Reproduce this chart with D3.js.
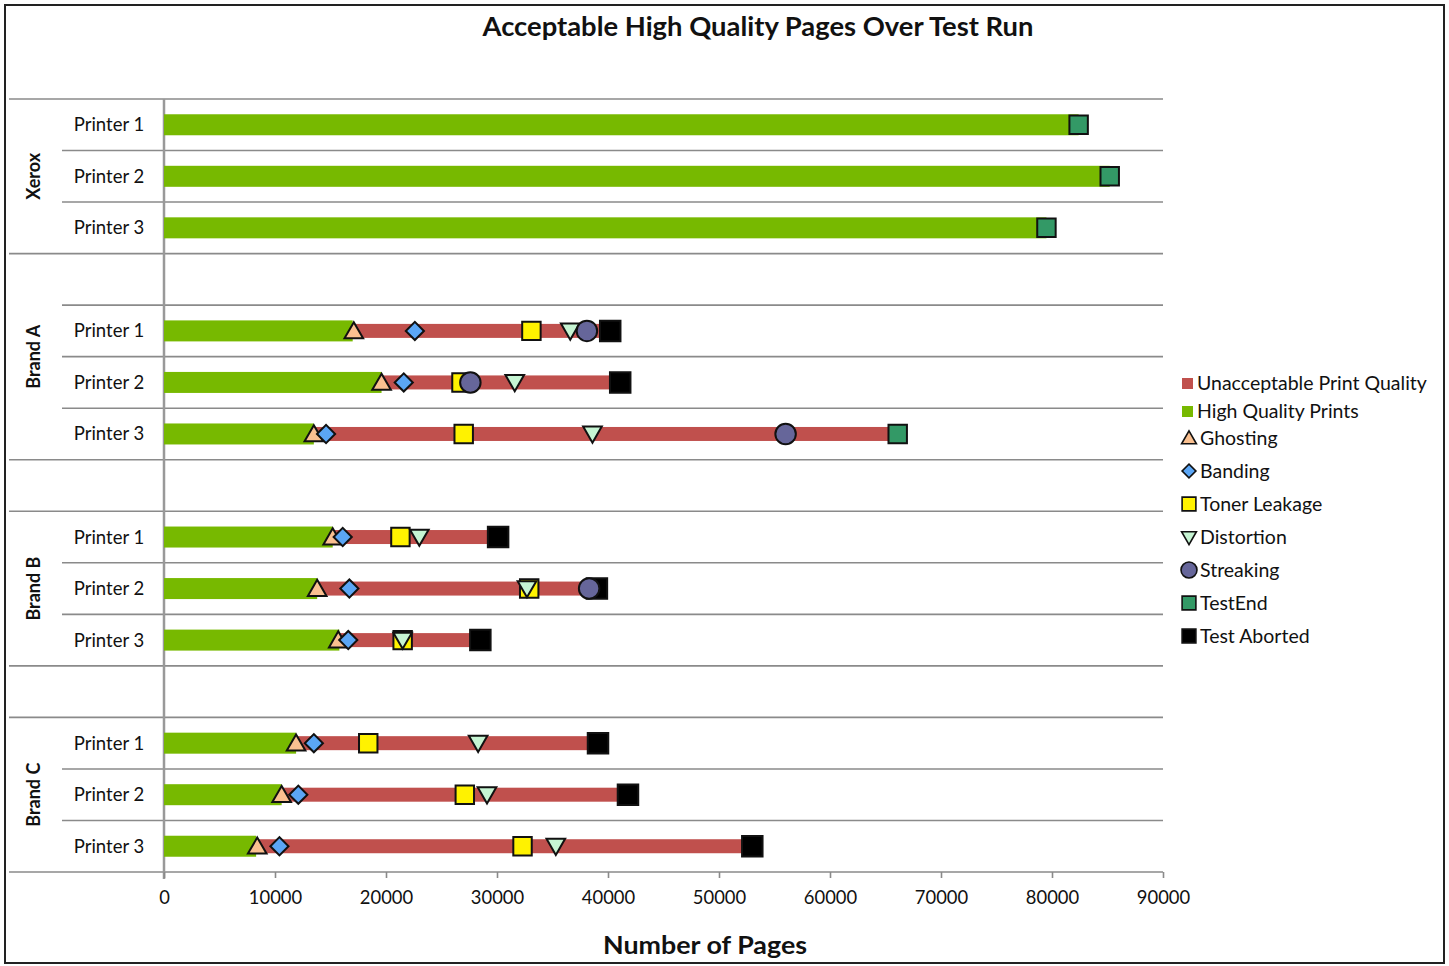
<!DOCTYPE html>
<html><head><meta charset="utf-8">
<script src="https://cdn.jsdelivr.net/npm/d3@7"></script>
<style>body{margin:0;background:#fff} text{font-family:Lato,"Open Sans",sans-serif;fill:#111}</style>
</head><body><svg id="c" width="1449" height="966"></svg>
<script>
// ---- data ----
const rowKeys = ["X1","X2","X3","gA","A1","A2","A3","gB","B1","B2","B3","gC","C1","C2","C3"];
const printerKeys = ["X1","X2","X3","A1","A2","A3","B1","B2","B3","C1","C2","C3"];
const printerNames = ["Printer 1","Printer 2","Printer 3","Printer 1","Printer 2","Printer 3","Printer 1","Printer 2","Printer 3","Printer 1","Printer 2","Printer 3"];
const brandNames = ["Xerox","Brand A","Brand B","Brand C"];
const brandFirstRow = ["X1","gA","B1","C1"];
const brandLastRow = ["X3","A3","B3","C3"];
const highQuality = [82400,85200,79500,17000,19600,13500,15200,13800,15800,11900,10600,8300];
const unacceptable = [0,0,0,23200,21500,52600,14900,25200,12700,27200,31200,44700];
const ghosting = [null,null,null,17100,19600,13500,15200,13800,15700,11900,10600,8400];
const banding = [null,null,null,22600,21600,14600,16100,16700,16600,13500,12100,10400];
const tonerLeakage = [null,null,null,33100,26800,27000,21300,32900,21500,18400,27100,32300];
const distortion = [null,null,null,36600,31600,38600,23000,32700,21500,28300,29100,35300];
const streaking = [null,null,null,38100,27600,56000,null,38300,null,null,null,null];
const testEnd = [82400,85200,79500,null,null,66100,null,null,null,null,null,null];
const testAborted = [null,null,null,40200,41100,null,30100,39000,28500,39100,41800,53000];
const xTicks = [0,10000,20000,30000,40000,50000,60000,70000,80000,90000];

const svg = d3.select("#c");
const x = d3.scaleLinear().domain([0,90000]).range([164,1163]);
const y = d3.scaleBand().domain(rowKeys).range([99,872]).padding(0);
const bw = y.bandwidth();

// frame
svg.append("rect").attr("x",5).attr("y",5).attr("width",1439).attr("height",958)
  .attr("fill","none").attr("stroke","#222").attr("stroke-width",2);

// title
svg.append("text").attr("x",758).attr("y",36).attr("text-anchor","middle")
  .attr("textLength",551).attr("lengthAdjust","spacingAndGlyphs")
  .style("font-size","26px").style("font-weight","bold").text("Acceptable High Quality Pages Over Test Run");
svg.append("text").attr("x",705).attr("y",954).attr("text-anchor","middle")
  .attr("textLength",204).attr("lengthAdjust","spacingAndGlyphs")
  .style("font-size","25px").style("font-weight","bold").text("Number of Pages");

// grid lines
const fullIdx = new Set([0,3,7,8,11,12,15]);
d3.range(0,16).forEach(k=>{
  const yy = 99 + k*bw;
  svg.append("line").attr("x1",fullIdx.has(k)?9:62).attr("x2",1163).attr("y1",yy).attr("y2",yy)
    .attr("stroke","#8a8a8a").attr("stroke-width",1.6);
});
// y axis line
svg.append("line").attr("x1",164).attr("x2",164).attr("y1",99).attr("y2",879)
  .attr("stroke","#999").attr("stroke-width",2.5);

// x axis ticks
const ax = svg.append("g").attr("transform","translate(0,872)")
  .call(d3.axisBottom(x).tickValues(xTicks).tickFormat(d3.format("d")).tickSize(6).tickPadding(13));
ax.select(".domain").remove();
ax.selectAll(".tick line").attr("stroke","#8a8a8a").attr("stroke-width",1.6);
ax.selectAll(".tick text").style("font-size","18.4px").style("font-family","Lato,sans-serif").attr("fill","#111");

// row labels
printerKeys.forEach((k,i)=>{
  svg.append("text").attr("x",109).attr("y",y(k)+bw/2+6.5).attr("text-anchor","middle")
    .style("font-size","18.5px").text(printerNames[i]);
});
brandNames.forEach((b,i)=>{
  const cy = (y(brandFirstRow[i]) + y(brandLastRow[i]) + bw)/2;
  svg.append("text").attr("transform",`translate(40,${cy}) rotate(-90)`).attr("text-anchor","middle")
    .style("font-size","18px").style("font-weight","bold").text(b);
});

// bars
const green="#77B900", red="#C0504D";
printerKeys.forEach((k,i)=>{
  const cy = y(k)+bw/2;
  svg.append("rect").attr("x",x(0)).attr("y",cy-10.5).attr("width",x(highQuality[i])-x(0)).attr("height",21).attr("fill",green);
  if(unacceptable[i]>0)
    svg.append("rect").attr("x",x(highQuality[i])).attr("y",cy-7).attr("width",x(highQuality[i]+unacceptable[i])-x(highQuality[i])).attr("height",14).attr("fill",red);
});

// markers
const markerDefs = [
  {name:"Ghosting", data:ghosting, type:d3.symbolTriangle, size:150, rot:0, fill:"#FAC090"},
  {name:"Banding", data:banding, type:d3.symbolSquare, size:165, rot:45, fill:"#5BA6F5"},
  {name:"Toner Leakage", data:tonerLeakage, type:d3.symbolSquare, size:340, rot:0, fill:"#FFF200"},
  {name:"Distortion", data:distortion, type:d3.symbolTriangle, size:150, rot:180, fill:"#C6F5D3"},
  {name:"TestEnd", data:testEnd, type:d3.symbolSquare, size:340, rot:0, fill:"#339966"},
  {name:"Test Aborted", data:testAborted, type:d3.symbolSquare, size:420, rot:0, fill:"#000000"},
  {name:"Streaking", data:streaking, type:d3.symbolCircle, size:330, rot:0, fill:"#66669A"}
];
markerDefs.forEach(m=>{
  const sym = d3.symbol().type(m.type).size(m.size);
  printerKeys.forEach((k,i)=>{
    const v = m.data[i];
    if(v==null) return;
    let cy = y(k)+bw/2;
    if(m.type===d3.symbolTriangle) cy += (m.rot===180?-2:2);
    svg.append("path").attr("d",sym()).attr("transform",`translate(${x(v)},${cy}) rotate(${m.rot})`)
      .attr("fill",m.fill).attr("stroke","#111").attr("stroke-width",2);
  });
});

// legend
const lg = svg.append("g");
const legendItems = [
  {label:"Unacceptable Print Quality", y:383, box:red},
  {label:"High Quality Prints", y:411, box:green},
  {label:"Ghosting", y:438, m:markerDefs[0]},
  {label:"Banding", y:471, m:markerDefs[1]},
  {label:"Toner Leakage", y:504, m:markerDefs[2]},
  {label:"Distortion", y:537, m:markerDefs[3]},
  {label:"Streaking", y:570, m:markerDefs[6]},
  {label:"TestEnd", y:603, m:markerDefs[4]},
  {label:"Test Aborted", y:636, m:markerDefs[5]}
];
legendItems.forEach(it=>{
  if(it.box){
    lg.append("rect").attr("x",1182).attr("y",it.y-5).attr("width",11).attr("height",11).attr("fill",it.box);
    lg.append("text").attr("x",1197).attr("y",it.y+6.5).style("font-size","19.5px").text(it.label);
  } else {
    const m = it.m;
    const s = m.name==="Test Aborted"||m.name==="TestEnd"||m.name==="Toner Leakage" ? 190 : (m.name==="Streaking"?200:95);
    let cy = it.y + (m.type===d3.symbolTriangle ? (m.rot===180?-1:1.5) : 0);
    lg.append("path").attr("d",d3.symbol().type(m.type).size(s)()).attr("transform",`translate(1189,${cy}) rotate(${m.rot})`)
      .attr("fill",m.fill).attr("stroke","#111").attr("stroke-width",1.6);
    lg.append("text").attr("x",1200).attr("y",it.y+6.5).style("font-size","19.5px").text(it.label);
  }
});
</script></body></html>
